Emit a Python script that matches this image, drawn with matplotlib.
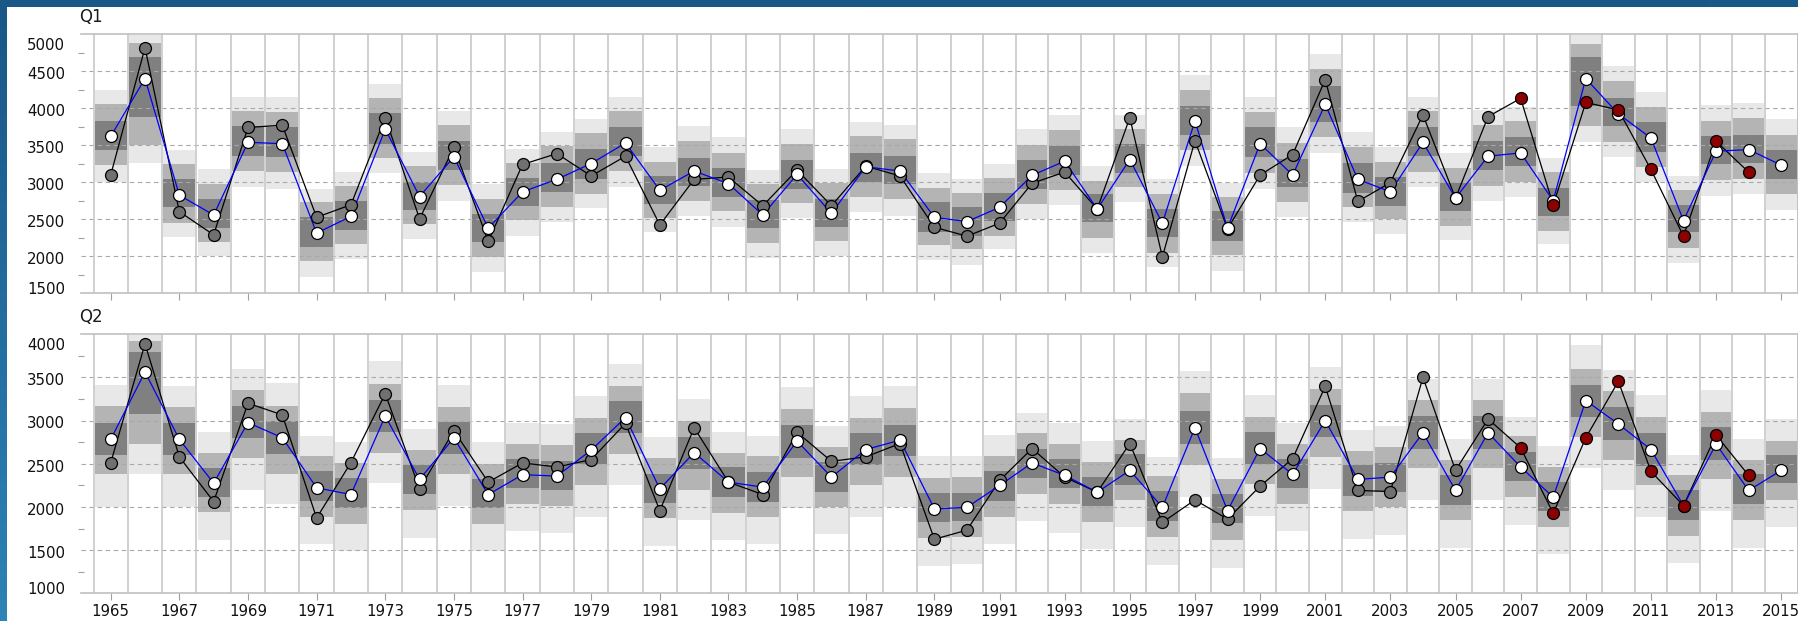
import numpy as np
import matplotlib
matplotlib.use("Agg")
import matplotlib.pyplot as plt
from matplotlib.patches import Rectangle
from matplotlib.transforms import blended_transform_factory, ScaledTranslation

plt.rcParams['lines.scale_dashes'] = False
plt.rcParams['font.family'] = ['DejaVu Sans']

# ---------------- data ----------------
years = np.arange(1965, 2016)
recent_start = 2007  # observations drawn in dark red from this year on

q1_forecast = [3620, 4402, 2826, 2558, 3540, 3522, 2313, 2540, 3719, 2808,
               3344, 2380, 2871, 3040, 3254, 3531, 2893, 3152, 2982, 2558,
               3107, 2580, 3210, 3152, 2527, 2469, 2661, 3094, 3286, 2638,
               3308, 2447, 3830, 2380, 3522, 3098, 4054, 3040, 2871, 3540,
               2786, 3353, 3397, 2750, 4402, 3924, 3598, 2482, 3420, 3442,
               3232]
q1_observed = [3098, 4820, 2603, 2290, 3741, 3772, 2527, 2697, 3875, 2505,
               3473, 2201, 3241, 3388, 3085, 3353, 2424, 3040, 3071, 2683,
               3165, 2683, 3219, 3085, 2393, 2272, 2447, 2987, 3138, 2638,
               3875, 1991, 3563, 2371, 3098, 3375, 4388, 2741, 2996, 3911,
               2786, 3888, 4134, 2692, 4080, 3978, 3174, 2272, 3554, 3138]
q1_lo1 = [3005, 3263, 2259, 2000, 2938, 2915, 1723, 1969, 3129, 2237,
          2750, 1790, 2281, 2469, 2652, 2942, 2326, 2549, 2402, 1978,
          2514, 2000, 2594, 2549, 1947, 1880, 2094, 2505, 2692, 2049,
          2728, 1857, 3219, 1799, 2915, 2527, 3397, 2469, 2304, 2938,
          2223, 2750, 2795, 2161, 3540, 3339, 3005, 1915, 2817, 2839,
          2630]
q1_lo2 = [3228, 3509, 2451, 2192, 3152, 3138, 1933, 2161, 3330, 2438,
          2960, 1991, 2491, 2661, 2839, 3152, 2514, 2750, 2607, 2183,
          2719, 2206, 2795, 2772, 2147, 2094, 2281, 2705, 2897, 2246,
          2938, 2049, 3433, 2013, 3129, 2728, 3612, 2661, 2505, 3143,
          2415, 2951, 3005, 2348, 3755, 3540, 3205, 2112, 3031, 3049,
          2839]
q1_lo3 = [3433, 3880, 2661, 2380, 3362, 3344, 2125, 2357, 3522, 2625,
          3165, 2192, 2683, 2871, 3040, 3362, 2705, 2951, 2804, 2380,
          2906, 2402, 3005, 2973, 2335, 2272, 2482, 2906, 3098, 2460,
          3129, 2259, 3643, 2206, 3339, 2938, 3821, 2862, 2683, 3353,
          2607, 3165, 3219, 2549, 4031, 3763, 3411, 2326, 3241, 3263,
          3049]
q1_hi3 = [3835, 4692, 3049, 2781, 3755, 3741, 2527, 2741, 3933, 3009,
          3554, 2572, 3063, 3263, 3451, 3741, 3085, 3330, 3188, 2763,
          3295, 2781, 3397, 3353, 2728, 2661, 2862, 3295, 3487, 2839,
          3522, 2638, 4031, 2607, 3741, 3321, 4299, 3263, 3071, 3741,
          2996, 3563, 3612, 2929, 4692, 4143, 3813, 2697, 3630, 3643,
          3433]
q1_hi2 = [4058, 4879, 3241, 2973, 3964, 3946, 2728, 2951, 4143, 3219,
          3777, 2781, 3263, 3487, 3665, 3964, 3272, 3563, 3397, 2973,
          3522, 2987, 3630, 3585, 2929, 2862, 3063, 3509, 3701, 3018,
          3723, 2839, 4254, 2795, 3946, 3531, 4527, 3473, 3272, 3964,
          3196, 3777, 3835, 3138, 4871, 4371, 4022, 2893, 3835, 3866,
          3643]
q1_hi1 = [4254, 4985, 3433, 3183, 4156, 4156, 2915, 3143, 4335, 3411,
          3964, 2973, 3451, 3679, 3857, 4156, 3473, 3755, 3607, 3161,
          3723, 3183, 3821, 3777, 3129, 3049, 3254, 3719, 3911, 3219,
          3911, 3040, 4446, 2996, 4156, 3741, 4737, 3679, 3473, 4156,
          3397, 3978, 4022, 3330, 4985, 4567, 4223, 3085, 4045, 4067,
          3857]

q2_forecast = [2782, 3564, 2782, 2276, 2977, 2802, 2222, 2144, 3054, 2319,
               2802, 2144, 2374, 2358, 2658, 3035, 2210, 2630, 2288, 2230,
               2763, 2346, 2665, 2774, 1977, 1996, 2249, 2510, 2366, 2171,
               2424, 1996, 2918, 1957, 2677, 2377, 3000, 2319, 2346, 2860,
               2191, 2860, 2463, 2113, 3233, 2961, 2665, 2016, 2728, 2191,
               2424]
q2_observed = [2510, 3891, 2580, 2062, 3202, 3066, 1872, 2514, 3311, 2210,
               2883, 2288, 2510, 2463, 2549, 2969, 1957, 2918, 2288, 2144,
               2864, 2529, 2580, 2735, 1626, 1732, 2307, 2677, 2346, 2171,
               2735, 1821, 2082, 1860, 2241, 2560, 3397, 2191, 2179, 3502,
               2424, 3019, 2685, 1926, 2802, 3455, 2412, 2016, 2833, 2366]
q2_lo1 = [1996, 2385, 2004, 1615, 2202, 2035, 1568, 1490, 2276, 1646,
          2016, 1490, 1724, 1704, 1887, 2249, 1549, 1852, 1615, 1568,
          1988, 1685, 1887, 1996, 1315, 1335, 1568, 1833, 1704, 1510,
          1763, 1327, 2113, 1296, 1899, 1716, 2210, 1626, 1677, 2086,
          1529, 2082, 1794, 1451, 2451, 2191, 1887, 1346, 1957, 1529,
          1763]
q2_lo2 = [2377, 2724, 2377, 1938, 2572, 2385, 1887, 1802, 2630, 1969,
          2377, 1802, 2035, 2016, 2249, 2619, 1868, 2198, 1930, 1879,
          2346, 1996, 2249, 2346, 1646, 1654, 1887, 2152, 2035, 1829,
          2082, 1654, 2483, 1619, 2268, 2035, 2580, 1949, 1996, 2455,
          1848, 2451, 2113, 1770, 2805, 2549, 2249, 1665, 2319, 1852,
          2082]
q2_lo3 = [2599, 3074, 2599, 2113, 2794, 2619, 2074, 1988, 2872, 2152,
          2611, 1984, 2218, 2198, 2502, 2852, 2047, 2436, 2113, 2062,
          2572, 2179, 2483, 2588, 1821, 1833, 2066, 2335, 2218, 2008,
          2257, 1840, 2724, 1809, 2502, 2222, 2813, 2132, 2179, 2677,
          2027, 2669, 2300, 1949, 3039, 2774, 2475, 1852, 2549, 2035,
          2276]
q2_hi3 = [2969, 3794, 2969, 2451, 3171, 2996, 2416, 2335, 3241, 2490,
          2988, 2319, 2553, 2533, 2852, 3222, 2385, 2805, 2463, 2405,
          2949, 2521, 2852, 2949, 2160, 2163, 2412, 2677, 2553, 2346,
          2611, 2183, 3117, 2152, 2872, 2560, 3183, 2490, 2510, 3054,
          2366, 3054, 2638, 2288, 3416, 3156, 2852, 2198, 2922, 2385,
          2599]
q2_hi2 = [3171, 3922, 3156, 2630, 3358, 3171, 2588, 2510, 3424, 2665,
          3163, 2494, 2728, 2716, 3035, 3405, 2568, 3000, 2630, 2588,
          3132, 2697, 3035, 3152, 2335, 2346, 2588, 2852, 2728, 2521,
          2774, 2358, 3319, 2327, 3047, 2735, 3370, 2646, 2697, 3241,
          2541, 3241, 2821, 2463, 3603, 3339, 3039, 2366, 3105, 2549,
          2767]
q2_hi1 = [3416, 3990, 3405, 2872, 3603, 3436, 2821, 2747, 3689, 2903,
          3416, 2747, 2969, 2957, 3288, 3658, 2813, 3253, 2872, 2825,
          3389, 2938, 3280, 3397, 2588, 2588, 2833, 3086, 2969, 2767,
          3016, 2580, 3580, 2568, 3300, 2969, 3619, 2891, 2938, 3486,
          2782, 3486, 3047, 2708, 3872, 3584, 3300, 2599, 3358, 2782,
          3016]

q1_yticks = [1500, 2000, 2500, 3000, 3500, 4000, 4500, 5000]
q2_yticks = [1000, 1500, 2000, 2500, 3000, 3500, 4000]
x_ticks = list(range(1965, 2016, 2))

# ---------------- figure ----------------
W, H = 1798, 621
DPI = 100
fig = plt.figure(figsize=(W / DPI, H / DPI), dpi=DPI)

# blue frame (gradient) + white page
bg = fig.add_axes([0, 0, 1, 1], zorder=-10)
ny, nx = 64, 256
t = np.linspace(0, 1, ny)[:, None] * np.ones((1, nx))
s = np.ones((ny, 1)) * np.linspace(0, 1, nx)[None, :]
c_top = np.array([0x18, 0x57, 0x86]) / 255
c_bot = np.array([0x2d, 0x82, 0xb6]) / 255
c_right = np.array([0x1a, 0x5e, 0x8c]) / 255
img = c_top * (1 - t[..., None]) + c_bot * t[..., None]
img = img * (1 - 0.3 * s[..., None]) + c_right * 0.3 * s[..., None]
bg.imshow(img, aspect='auto', extent=[0, 1, 0, 1], origin='upper')
bg.add_patch(Rectangle((7 / W, 0), 1, 1 - 7 / H, facecolor='white', edgecolor='none'))
bg.set_xlim(0, 1)
bg.set_ylim(0, 1)
bg.axis('off')

ax_left = 80.7 / W
ax_w = (1797.5 - 80.7) / W
ax_h = (293.3 - 34.3) / H
ax1 = fig.add_axes([ax_left, 1 - 293.3 / H, ax_w, ax_h])
ax2 = fig.add_axes([ax_left, 1 - 593.3 / H, ax_w, ax_h])

LIGHT, MID, DARK = '#e8e8e8', '#b4b4b4', '#808080'
GRID = '#a8a8a8'
COL = '#c8c8c8'
SPINE = '#c0c0c0'
FS = 10.8

# The source chart's year columns are slightly wider before 1989 than after;
# a piecewise-linear axis scale reproduces that.
BRK = 1989.0
W1, W2 = 34.32, 32.57


def x_fwd(x):
    x = np.asarray(x, dtype=float)
    return np.where(x < BRK, (x - BRK) * W1, (x - BRK) * W2)


def x_inv(p):
    p = np.asarray(p, dtype=float)
    return np.where(p < 0, BRK + p / W1, BRK + p / W2)


def px(p):
    return p / DPI


def panel(ax, label, fc, obs, lo1, lo2, lo3, hi3, hi2, hi1, yticks, show_x):
    ylo, yhi = yticks[0], yticks[-1]
    ax.set_xscale('function', functions=(x_fwd, x_inv))
    ax.set_xlim(1964.126, 2015.5)
    ax.set_ylim(ylo, yhi)
    ax.set_facecolor('white')
    lo1, lo2, lo3 = np.array(lo1), np.array(lo2), np.array(lo3)
    hi1, hi2, hi3 = np.array(hi1), np.array(hi2), np.array(hi3)
    w = 0.94
    ax.bar(years, hi1 - lo1, bottom=lo1, width=w, color=LIGHT, linewidth=0, zorder=1)
    ax.bar(years, hi2 - lo2, bottom=lo2, width=w, color=MID, linewidth=0, zorder=1.1)
    ax.bar(years, hi3 - lo3, bottom=lo3, width=w, color=DARK, linewidth=0, zorder=1.2)

    # dashed horizontal grid (interior ticks)
    for v in yticks[1:-1]:
        ax.axhline(v, color=GRID, lw=0.8, ls=(0, (3.2, 2.6)), zorder=2)
    # column separators
    ax.vlines(np.arange(years[0] - 0.5, years[-1] + 1), ylo, yhi,
              color=COL, lw=1.2, zorder=2.1)

    # series
    fc = np.array(fc)
    obs = np.array(obs)
    oy = years[:len(obs)]
    ax.plot(oy, obs, color='black', lw=0.9, zorder=3)
    ax.plot(years, fc, color='#0000ff', lw=0.9, zorder=3.1)
    old = oy < recent_start
    ax.plot(oy[old], obs[old], ls='none', marker='o', ms=8.6, mfc='#707070',
            mec='black', mew=0.9, zorder=4)
    ax.plot(years, fc, ls='none', marker='o', ms=8.6, mfc='white',
            mec='black', mew=0.9, zorder=5)
    ax.plot(oy[~old], obs[~old], ls='none', marker='o', ms=8.6, mfc='#8b0000',
            mec='black', mew=0.9, zorder=6)

    # spines
    for side in ('top', 'bottom', 'right'):
        ax.spines[side].set_color(SPINE)
        ax.spines[side].set_linewidth(1.2)
        ax.spines[side].set_zorder(2.2)
    ax.spines['left'].set_visible(False)

    # x ticks
    ax.set_xticks(x_ticks)
    ax.set_xticks([], minor=True)
    ax.tick_params(axis='x', which='major', direction='out', length=5,
                   width=0.8, color='#a0a0a0', pad=3.0, labelsize=FS,
                   labelcolor='#111111', labelbottom=show_x)
    if show_x:
        ax.set_xticklabels([str(y) for y in x_ticks])

    # y ticks: minor marks only, labels drawn as text
    ax.set_yticks(yticks)
    ax.set_yticks(np.array(yticks[:-1]) + 250, minor=True)
    ax.tick_params(axis='y', which='major', length=0, labelleft=False)
    ax.tick_params(axis='y', which='minor', direction='inout', length=4,
                   width=0.8, color='#a0a0a0')
    trans = blended_transform_factory(ax.transAxes, ax.transData)
    for i, v in enumerate(yticks):
        if i == 0:
            dy = 3.3
        elif i == len(yticks) - 1:
            dy = -11.5
        else:
            dy = -3.2
        tr = trans + ScaledTranslation(px(-15.5), px(dy), fig.dpi_scale_trans)
        ax.text(0, v, str(v), transform=tr, ha='right', va='center',
                fontsize=FS, color='#111111')

    ax.annotate(label, xy=(0, 1), xycoords='axes fraction',
                xytext=(-2.0 * 0.72, 17.5 * 0.72), textcoords='offset points',
                ha='left', va='center', fontsize=12, color='#1a1a1a')


panel(ax1, 'Q1', q1_forecast, q1_observed, q1_lo1, q1_lo2, q1_lo3,
      q1_hi3, q1_hi2, q1_hi1, q1_yticks, False)
panel(ax2, 'Q2', q2_forecast, q2_observed, q2_lo1, q2_lo2, q2_lo3,
      q2_hi3, q2_hi2, q2_hi1, q2_yticks, True)

fig.savefig('out.png', dpi=DPI)
